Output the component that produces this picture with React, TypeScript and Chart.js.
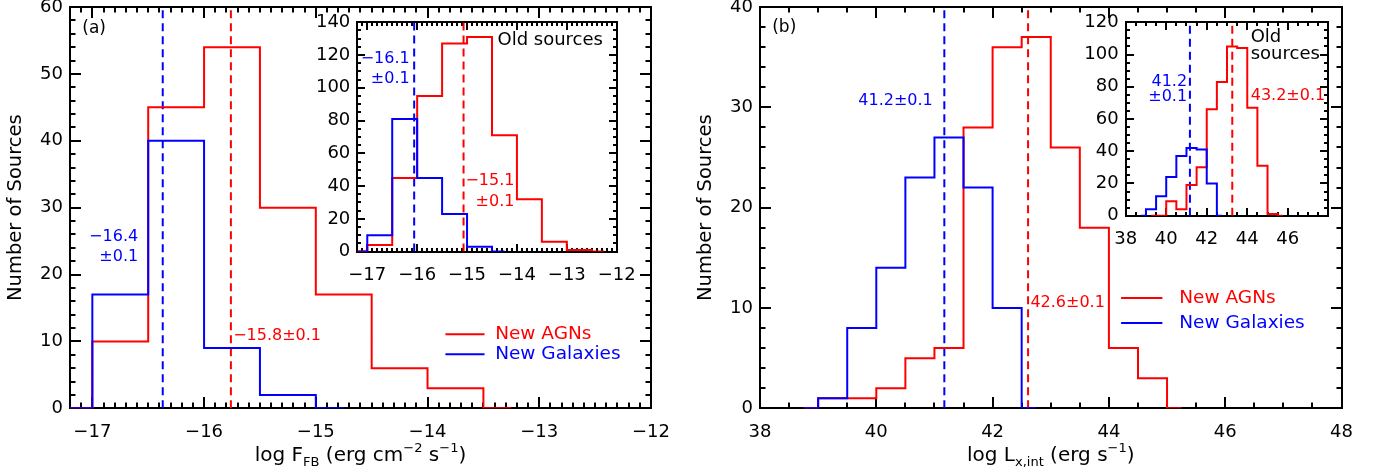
import React, { useEffect, useRef } from 'react';
import { Chart, registerables } from 'chart.js';

Chart.register(...registerables);

const FONT = '"DejaVu Sans", "Liberation Sans", sans-serif';
const RED = '#ff0000';
const BLUE = '#0000ff';
const BLACK = '#000000';

// ---------------- data ----------------
// Panel (a): new sources, log F_FB, bin centers (0.5 dex bins, IDL psym=10 style)
const fluxBinCentersNew = [-17.25, -16.75, -16.25, -15.75, -15.25, -14.75, -14.25, -13.75, -13.25];
const agnFluxNew = [0, 10, 45, 54, 30, 17, 6, 3, 0];
const galFluxNew = [0, 17, 40, 9, 2, 0, null, null, null];
const agnFluxNewMedian = -15.76;
const galFluxNewMedian = -16.37;

// Inset (a): old sources
const fluxBinCentersOld = [-17.25, -16.75, -16.25, -15.75, -15.25, -14.75, -14.25, -13.75, -13.25, -12.75, -12.25];
const agnFluxOld = [0, 4, 45, 95, 127, 131, 71, 32, 6, 1, 0];
const galFluxOld = [0, 10, 81, 45, 23, 3, 0, null, null, null, null];
const agnFluxOldMedian = -15.07;
const galFluxOldMedian = -16.06;

// Panel (b): new sources, log L_X,int
const lumBinCentersNew = [38.75, 39.25, 39.75, 40.25, 40.75, 41.25, 41.75, 42.25, 42.75, 43.25, 43.75, 44.25, 44.75, 45.25];
const agnLumNew = [0, 1, 1, 2, 5, 6, 28, 36, 37, 26, 18, 6, 3, 0];
const galLumNew = [0, 1, 8, 14, 23, 27, 22, 10, 0, null, null, null, null, null];
const agnLumNewMedian = 42.61;
const galLumNewMedian = 41.17;

// Inset (b): old sources
const lumBinCentersOld = [38.75, 39.25, 39.75, 40.25, 40.75, 41.25, 41.75, 42.25, 42.75, 43.25, 43.75, 44.25, 44.75, 45.25, 45.75];
const agnLumOld = [null, 0, 0, 9, 4, 19, 30, 66, 83, 105, 104, 67, 31, 1, 0];
const galLumOld = [0, 4, 12, 24, 37, 42, 41, 20, 0, null, null, null, null, null, null];
const agnLumOldMedian = 43.26;
const galLumOldMedian = 41.17;

// tick values
const fluxTicks = [-17, -16, -15, -14, -13, -12];
const countTicksA = [0, 10, 20, 30, 40, 50, 60];
const countTicksAInset = [0, 20, 40, 60, 80, 100, 120, 140];
const lumTicks = [38, 40, 42, 44, 46, 48];
const lumTicksInset = [38, 40, 42, 44, 46];
const countTicksB = [0, 10, 20, 30, 40];
const countTicksBInset = [0, 20, 40, 60, 80, 100, 120];

// ---------------- layout ----------------
const W = 1380;
const H = 473;
const YW = 60; // fixed y-axis box width
const XH = 40; // fixed x-axis box height

type TextItem = { t: string; x: number; y: number; c: string; align: CanvasTextAlign; size: number };
type Seg = { t: string; k: 'n' | 'sub' | 'sup' };

interface Panel {
  area: { left: number; right: number; top: number; bottom: number };
  xMin: number; xMax: number; yMin: number; yMax: number;
  xTicks: number[]; yTicks: number[]; xMajorMarks: number[];
  xMinor: number; yMinor: number; major: number; minor: number;
  datasets: any[];
  texts: TextItem[];
  legend?: { x1: number; x2: number; tx: number; rows: { y: number; c: string; t: string }[]; size: number };
  xTitle?: Seg[];
  yTitle?: string;
}

const hist = (centers: number[], values: (number | null)[], color: string) => ({
  data: centers.map((c, i) => ({ x: c, y: values[i] })),
  borderColor: color,
  borderWidth: 2,
  stepped: 'middle',
  pointRadius: 0,
  fill: false,
  spanGaps: false,
});

const vline = (x: number, ymax: number, color: string) => ({
  data: [{ x, y: 0 }, { x, y: ymax }],
  borderColor: color,
  borderWidth: 2,
  borderDash: [8, 5],
  pointRadius: 0,
  fill: false,
});

const panels: Panel[] = [
  {
    area: { left: 70, right: 651, top: 7, bottom: 408.3 },
    xMin: -17.2, xMax: -12, yMin: 0, yMax: 60,
    xTicks: fluxTicks, yTicks: countTicksA, xMajorMarks: fluxTicks,
    xMinor: 0.1, yMinor: 2, major: 11, minor: 5.5,
    datasets: [
      hist(fluxBinCentersNew, galFluxNew, BLUE),
      hist(fluxBinCentersNew, agnFluxNew, RED),
      vline(galFluxNewMedian, 60, BLUE),
      vline(agnFluxNewMedian, 60, RED),
    ],
    texts: [
      { t: '(a)', x: -17.09, y: 56.7, c: BLACK, align: 'left', size: 17 },
      { t: '−16.4', x: -16.59, y: 25.7, c: BLUE, align: 'right', size: 16 },
      { t: '±0.1', x: -16.59, y: 22.7, c: BLUE, align: 'right', size: 16 },
      { t: '−15.8±0.1', x: -15.74, y: 10.8, c: RED, align: 'left', size: 16 },
    ],
    legend: {
      x1: -13.84, x2: -13.49, tx: -13.395, size: 18.5,
      rows: [
        { y: 11.06, c: RED, t: 'New AGNs' },
        { y: 8.07, c: BLUE, t: 'New Galaxies' },
      ],
    },
    xTitle: [
      { t: 'log F', k: 'n' }, { t: 'FB', k: 'sub' }, { t: ' (erg cm', k: 'n' },
      { t: '−2', k: 'sup' }, { t: ' s', k: 'n' }, { t: '−1', k: 'sup' }, { t: ')', k: 'n' },
    ],
    yTitle: 'Number of Sources',
  },
  {
    area: { left: 357.3, right: 616.7, top: 22.3, bottom: 251.6 },
    xMin: -17.2, xMax: -12, yMin: 0, yMax: 140,
    xTicks: fluxTicks, yTicks: countTicksAInset, xMajorMarks: fluxTicks,
    xMinor: 0.1, yMinor: 5, major: 8, minor: 4,
    datasets: [
      hist(fluxBinCentersOld, galFluxOld, BLUE),
      hist(fluxBinCentersOld, agnFluxOld, RED),
      vline(galFluxOldMedian, 140, BLUE),
      vline(agnFluxOldMedian, 140, RED),
    ],
    texts: [
      { t: 'Old sources', x: -14.39, y: 128.8, c: BLACK, align: 'left', size: 18 },
      { t: '−16.1', x: -16.15, y: 117.5, c: BLUE, align: 'right', size: 16 },
      { t: '±0.1', x: -16.15, y: 105.3, c: BLUE, align: 'right', size: 16 },
      { t: '−15.1', x: -14.05, y: 42.9, c: RED, align: 'right', size: 16 },
      { t: '±0.1', x: -14.05, y: 30.6, c: RED, align: 'right', size: 16 },
    ],
  },
  {
    area: { left: 760, right: 1341.5, top: 7, bottom: 408.3 },
    xMin: 38, xMax: 48, yMin: 0, yMax: 40,
    xTicks: lumTicks, yTicks: countTicksB, xMajorMarks: lumTicks,
    xMinor: 0.5, yMinor: 2, major: 11, minor: 5.5,
    datasets: [
      hist(lumBinCentersNew, galLumNew, BLUE),
      hist(lumBinCentersNew, agnLumNew, RED),
      vline(galLumNewMedian, 40, BLUE),
      vline(agnLumNewMedian, 40, RED),
    ],
    texts: [
      { t: '(b)', x: 38.21, y: 37.9, c: BLACK, align: 'left', size: 17 },
      { t: '41.2±0.1', x: 39.69, y: 30.66, c: BLUE, align: 'left', size: 16 },
      { t: '42.6±0.1', x: 42.65, y: 10.5, c: RED, align: 'left', size: 16 },
    ],
    legend: {
      x1: 44.21, x2: 44.92, tx: 45.21, size: 18.5,
      rows: [
        { y: 11.0, c: RED, t: 'New AGNs' },
        { y: 8.5, c: BLUE, t: 'New Galaxies' },
      ],
    },
    xTitle: [
      { t: 'log L', k: 'n' }, { t: 'x,int', k: 'sub' }, { t: ' (erg s', k: 'n' },
      { t: '−1', k: 'sup' }, { t: ')', k: 'n' },
    ],
    yTitle: 'Number of Sources',
  },
  {
    area: { left: 1125.7, right: 1328.3, top: 22.3, bottom: 215.7 },
    xMin: 38, xMax: 48, yMin: 0, yMax: 120,
    xTicks: lumTicksInset, yTicks: countTicksBInset, xMajorMarks: lumTicks,
    xMinor: 0.5, yMinor: 5, major: 8, minor: 4,
    datasets: [
      hist(lumBinCentersOld, galLumOld, BLUE),
      hist(lumBinCentersOld, agnLumOld, RED),
      vline(galLumOldMedian, 120, BLUE),
      vline(agnLumOldMedian, 120, RED),
    ],
    texts: [
      { t: 'Old', x: 44.17, y: 110.7, c: BLACK, align: 'left', size: 18 },
      { t: 'sources', x: 44.17, y: 100.4, c: BLACK, align: 'left', size: 18 },
      { t: '41.2', x: 41.03, y: 83.3, c: BLUE, align: 'right', size: 16 },
      { t: '±0.1', x: 41.03, y: 73.6, c: BLUE, align: 'right', size: 16 },
      { t: '43.2±0.1', x: 44.17, y: 74.6, c: RED, align: 'left', size: 16 },
    ],
  },
];

const fmt = (v: number) => (v < 0 ? '−' + Math.abs(v) : String(v));

function minorValues(min: number, max: number, step: number, majors: number[]) {
  const out: number[] = [];
  const k0 = Math.ceil(min / step - 1e-6);
  const k1 = Math.floor(max / step + 1e-6);
  for (let k = k0; k <= k1; k++) {
    const v = k * step;
    let isMajor = false;
    for (let j = 0; j < majors.length; j++) {
      if (Math.abs(majors[j] - v) < step / 10) isMajor = true;
    }
    if (!isMajor) out.push(v);
  }
  return out;
}

function drawFrame(chart: any, p: Panel) {
  const ctx: CanvasRenderingContext2D = chart.ctx;
  const a = chart.chartArea;
  const xs = chart.scales.x;
  const ys = chart.scales.y;
  const L = Math.round(a.left);
  const R = Math.round(a.right);
  const T = Math.round(a.top);
  const B = Math.round(a.bottom);
  ctx.save();
  ctx.fillStyle = '#000000';
  const xMaj = p.xMajorMarks.filter((v) => v >= p.xMin && v <= p.xMax);
  const yMaj = p.yTicks;
  const xMinorVals = minorValues(p.xMin, p.xMax, p.xMinor, xMaj);
  const yMinorVals = minorValues(p.yMin, p.yMax, p.yMinor, yMaj);
  const xt = (v: number, len: number) => {
    const px = Math.round(xs.getPixelForValue(v));
    ctx.fillRect(px - 1, B - len, 2, len);
    ctx.fillRect(px - 1, T, 2, len);
  };
  const yt = (v: number, len: number) => {
    const py = Math.round(ys.getPixelForValue(v));
    ctx.fillRect(L, py - 1, len, 2);
    ctx.fillRect(R - len, py - 1, len, 2);
  };
  xMaj.forEach((v) => xt(v, p.major));
  xMinorVals.forEach((v) => xt(v, p.minor));
  yMaj.forEach((v) => yt(v, p.major));
  yMinorVals.forEach((v) => yt(v, p.minor));
  // frame
  ctx.fillRect(L - 1, T - 1, R - L + 2, 2);
  ctx.fillRect(L - 1, B - 1, R - L + 2, 2);
  ctx.fillRect(L - 1, T - 1, 2, B - T + 2);
  ctx.fillRect(R - 1, T - 1, 2, B - T + 2);
  ctx.restore();
}

function drawAnnotations(chart: any, p: Panel) {
  const ctx: CanvasRenderingContext2D = chart.ctx;
  const a = chart.chartArea;
  const xs = chart.scales.x;
  const ys = chart.scales.y;
  ctx.save();
  ctx.setLineDash([]);
  ctx.textBaseline = 'middle';
  p.texts.forEach((it) => {
    ctx.font = `${it.size}px ${FONT}`;
    ctx.fillStyle = it.c;
    ctx.textAlign = it.align;
    ctx.fillText(it.t, xs.getPixelForValue(it.x), ys.getPixelForValue(it.y));
  });
  if (p.legend) {
    const Lg = p.legend;
    ctx.lineWidth = 2;
    ctx.font = `${Lg.size}px ${FONT}`;
    ctx.textAlign = 'left';
    Lg.rows.forEach((r) => {
      const py = ys.getPixelForValue(r.y);
      ctx.strokeStyle = r.c;
      ctx.beginPath();
      ctx.moveTo(xs.getPixelForValue(Lg.x1), py);
      ctx.lineTo(xs.getPixelForValue(Lg.x2), py);
      ctx.stroke();
      ctx.fillStyle = r.c;
      ctx.fillText(r.t, xs.getPixelForValue(Lg.tx), py);
    });
  }
  ctx.fillStyle = BLACK;
  if (p.xTitle) {
    const big = 20;
    const small = 13;
    const widths = p.xTitle.map((s) => {
      ctx.font = `${s.k === 'n' ? big : small}px ${FONT}`;
      return ctx.measureText(s.t).width;
    });
    const total = widths.reduce((q, w) => q + w, 0);
    let x = (a.left + a.right) / 2 - total / 2;
    const base = a.bottom + 53;
    ctx.textBaseline = 'alphabetic';
    ctx.textAlign = 'left';
    p.xTitle.forEach((s, i) => {
      ctx.font = `${s.k === 'n' ? big : small}px ${FONT}`;
      const dy = s.k === 'sub' ? 5 : s.k === 'sup' ? -9 : 0;
      ctx.fillText(s.t, x, base + dy);
      x += widths[i];
    });
  }
  if (p.yTitle) {
    ctx.save();
    ctx.translate(a.left - 54, (a.top + a.bottom) / 2);
    ctx.rotate(-Math.PI / 2);
    ctx.font = `19.5px ${FONT}`;
    ctx.textAlign = 'center';
    ctx.textBaseline = 'middle';
    ctx.fillText(p.yTitle, 0, 0);
    ctx.restore();
  }
  ctx.restore();
}

function makeConfig(p: Panel): any {
  const tickFont = { family: FONT, size: 18 };
  return {
    type: 'line',
    data: { datasets: p.datasets.map((d) => ({ ...d, data: d.data.map((q: any) => ({ ...q })) })) },
    options: {
      animation: false,
      responsive: false,
      devicePixelRatio: 1,
      events: [],
      layout: {
        padding: {
          left: p.area.left - YW,
          right: W - p.area.right,
          top: p.area.top,
          bottom: H - p.area.bottom - XH,
        },
      },
      plugins: { legend: { display: false }, tooltip: { enabled: false }, title: { display: false } },
      scales: {
        x: {
          type: 'linear',
          min: p.xMin,
          max: p.xMax,
          grid: { display: false, drawTicks: false },
          border: { display: false },
          afterBuildTicks: (s: any) => {
            s.ticks = p.xTicks.map((v) => ({ value: v }));
          },
          afterFit: (s: any) => {
            s.height = XH;
            s.paddingLeft = 0;
            s.paddingRight = 0;
          },
          ticks: {
            font: tickFont,
            color: BLACK,
            padding: 13,
            maxRotation: 0,
            autoSkip: false,
            callback: (v: any) => fmt(Number(v)),
          },
        },
        y: {
          type: 'linear',
          min: p.yMin,
          max: p.yMax,
          grid: { display: false, drawTicks: false },
          border: { display: false },
          afterBuildTicks: (s: any) => {
            s.ticks = p.yTicks.map((v) => ({ value: v }));
          },
          afterFit: (s: any) => {
            s.width = YW;
            s.paddingTop = 0;
            s.paddingBottom = 0;
          },
          ticks: {
            font: tickFont,
            color: BLACK,
            padding: 7,
            autoSkip: false,
            callback: (v: any) => fmt(Number(v)),
          },
        },
      },
    },
    plugins: [
      {
        id: 'idlFrame',
        beforeDatasetsDraw: (chart: any) => {
          drawFrame(chart, p);
        },
        afterDatasetsDraw: (chart: any) => {
          drawAnnotations(chart, p);
        },
      },
    ],
  };
}

function PanelCanvas({ panel }: { panel: Panel }) {
  const ref = useRef<HTMLCanvasElement>(null);
  useEffect(() => {
    if (!ref.current) return;
    const chart = new Chart(ref.current, makeConfig(panel));
    return () => chart.destroy();
  }, [panel]);
  return (
    <canvas
      ref={ref}
      width={W}
      height={H}
      style={{ position: 'absolute', left: 0, top: 0, width: W, height: H }}
    />
  );
}

export default function App() {
  return (
    <div style={{ position: 'absolute', left: 0, top: 0, width: W, height: H, background: '#ffffff' }}>
      {panels.map((p, i) => (
        <PanelCanvas key={i} panel={p} />
      ))}
    </div>
  );
}
